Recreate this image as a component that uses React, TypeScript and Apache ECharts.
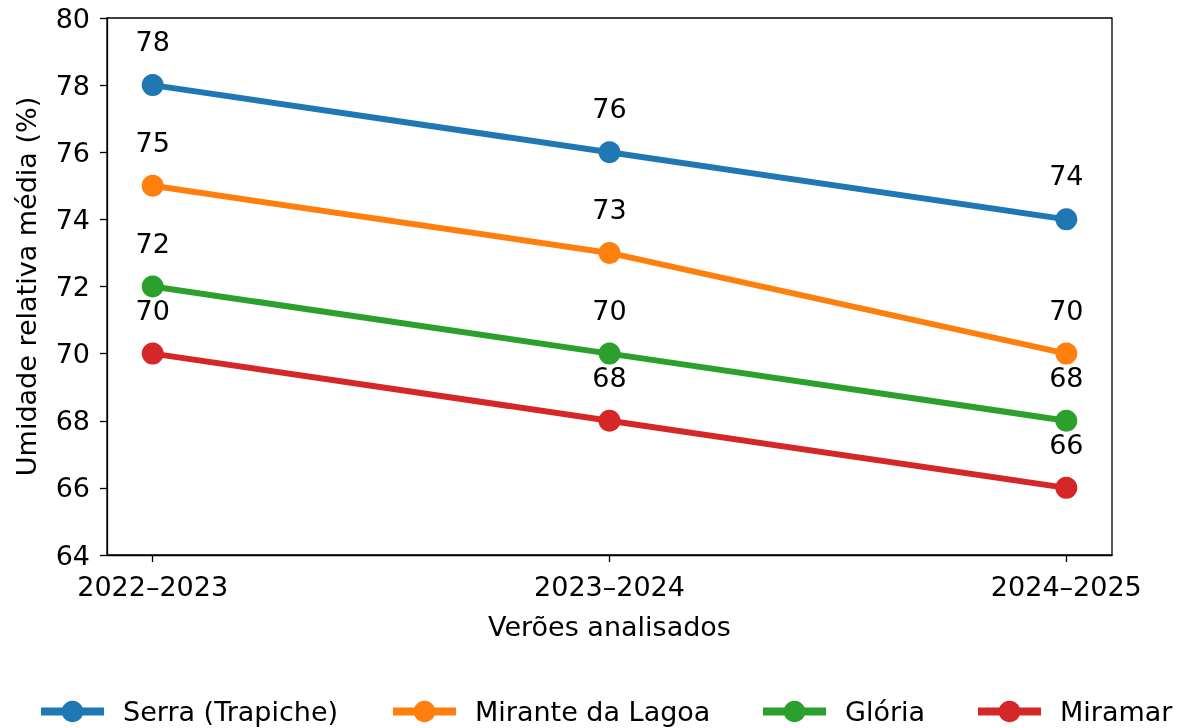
import React, { useEffect, useRef } from "react";
import * as echarts from "echarts";

const categories = ["2022–2023", "2023–2024", "2024–2025"];
const seriesNames = ["Serra (Trapiche)", "Mirante da Lagoa", "Glória", "Miramar"];
const serra = [78, 76, 74];
const mirante = [75, 73, 70];
const gloria = [72, 70, 68];
const miramar = [70, 68, 66];
const colors = ["#1f77b4", "#ff7f0e", "#2ca02c", "#d62728"];
const yTicks = [64, 66, 68, 70, 72, 74, 76, 78, 80];

const FONT = "DejaVu Sans";
const FS = 27;
const legendLefts = [37, 389, 759, 974];

export default function App() {
  const ref = useRef<HTMLDivElement>(null);
  useEffect(() => {
    if (!ref.current) return;
    const chart = echarts.init(ref.current, null, { renderer: "svg" });
    const all = [serra, mirante, gloria, miramar];
    chart.setOption({
      animation: false,
      textStyle: { fontFamily: FONT },
      grid: {
        left: 107,
        right: 71,
        top: 18,
        bottom: 173,
        show: true,
        borderColor: "#000",
        borderWidth: 1.3,
        backgroundColor: "transparent",
      },
      legend: seriesNames.map((name, i) => ({
        top: 698,
        left: legendLefts[i],
        padding: 0,
        itemWidth: 63,
        itemHeight: 27,
        lineStyle: { width: 8 },
        textStyle: {
          fontFamily: FONT,
          fontSize: FS,
          color: "#000",
          padding: [0, 0, 0, 14],
        },
        data: [name],
      })),
      xAxis: {
        type: "value",
        min: -0.1,
        max: 2.1,
        splitLine: { show: false },
        axisLine: { show: true, onZero: false, lineStyle: { color: "#000", width: 1.3 } },
        axisTick: {
          show: true,
          length: 7,
          customValues: [0, 1, 2],
          lineStyle: { color: "#000", width: 1.3 },
        },
        axisLabel: {
          customValues: [0, 1, 2],
          formatter: (v: number) => categories[Math.round(v)] ?? "",
          fontFamily: FONT,
          fontSize: FS,
          color: "#000",
          margin: 18,
        },
        name: "Verões analisados",
        nameLocation: "middle",
        nameGap: 58,
        nameTextStyle: { fontFamily: FONT, fontSize: FS, color: "#000" },
      },
      yAxis: {
        type: "value",
        min: 64,
        max: 80,
        interval: 2,
        splitLine: { show: false },
        axisLine: { show: true, onZero: false, lineStyle: { color: "#000", width: 1.3 } },
        axisTick: { show: true, length: 7, lineStyle: { color: "#000", width: 1.3 } },
        axisLabel: {
          fontFamily: FONT,
          fontSize: FS,
          color: "#000",
          margin: 17,
          formatter: (v: number) => (yTicks.includes(v) ? String(v) : ""),
        },
        name: "Umidade relativa média (%)",
        nameLocation: "middle",
        nameGap: 67,
        nameRotate: 90,
        nameTextStyle: { fontFamily: FONT, fontSize: FS, color: "#000" },
      },
      series: all.map((vals, i) => ({
        name: seriesNames[i],
        type: "line",
        data: vals.map((v, j) => [j, v]),
        color: colors[i],
        lineStyle: { width: 6, color: colors[i] },
        itemStyle: { color: colors[i] },
        symbol: "circle",
        symbolSize: 22,
        z: 2 + i,
        label: {
          show: true,
          position: "top",
          distance: 19,
          fontFamily: FONT,
          fontSize: FS,
          color: "#000",
          formatter: (p: any) => String(p.value[1]),
        },
      })),
    });
    return () => chart.dispose();
  }, []);
  return (
    <div
      ref={ref}
      style={{ position: "fixed", left: 0, top: 0, width: 1183, height: 728 }}
    />
  );
}
